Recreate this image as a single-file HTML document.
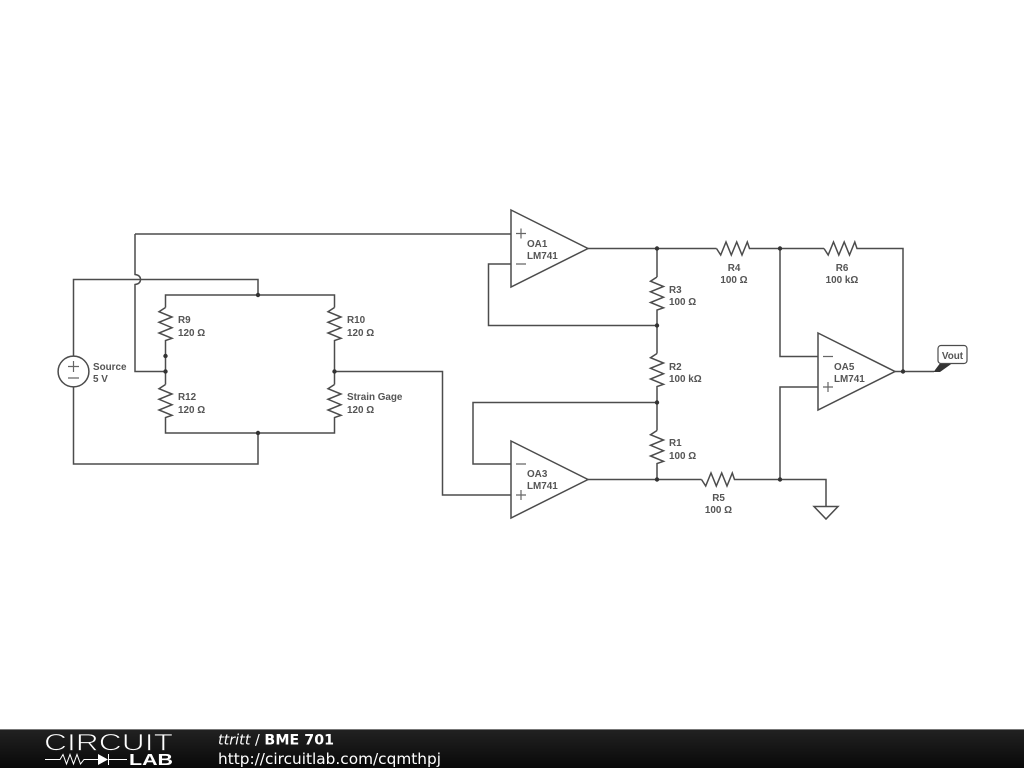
<!DOCTYPE html>
<html>
<head>
<meta charset="utf-8">
<style>
html,body{margin:0;padding:0;background:#fff;width:1024px;height:768px;overflow:hidden}
svg{display:block;position:absolute;left:0;top:0}
.w{fill:none;stroke:#4c4c4c;stroke-width:1.5}
.s{fill:none;stroke:#666;stroke-width:1.2}
.t{font-family:"Liberation Sans",sans-serif;font-size:9.9px;font-weight:bold;fill:#555}
.d{fill:#333}
.f{font-family:"DejaVu Sans",sans-serif;fill:#fff}
</style>
</head>
<body>
<svg width="1024" height="768" viewBox="0 0 1024 768" xmlns="http://www.w3.org/2000/svg">
<defs>
<linearGradient id="g" x1="0" y1="0" x2="0" y2="1"><stop offset="0" stop-color="#222"/><stop offset="1" stop-color="#080808"/></linearGradient>
<polyline id="rh" class="w" points="-17.5,0 -13.3,6.5 -8,-6.5 -2.7,6.5 2.7,-6.5 8,6.5 13.3,-6.5 15.5,0 17.5,0"/>
<polyline id="rv" class="w" points="0,-17.5 -6.5,-13.3 6.5,-8 -6.5,-2.7 6.5,2.7 -6.5,8 6.5,13.3 0,15.5 0,17.5"/>
</defs>
<rect width="1024" height="768" fill="#fff"/>

<!-- wires -->
<path class="w" d="M73.5 356V279.5H258V295M165.5 307.5V295H334.5V307.5M165.5 342.5V384.5M334.5 342.5V384.5M165.5 419.5V433H334.5V419.5M258 433V464H73.5V387"/>
<path class="w" d="M135 234H511M135 234V274.5C139 275 140.5 277 140.5 279.5C140.5 282 139 284 135 284.5V371.5H165.5"/>
<path class="w" d="M334.5 371.5H442.5V495H511"/>
<path class="w" d="M511 264H488.5V325.5H657"/>
<path class="w" d="M511 464H473V402.5H657"/>
<path class="w" d="M588 248.5H716.5M751.5 248.5H824M859 248.5H903V371.5"/>
<path class="w" d="M657 248.5V277M657 312V353.5M657 388.5V430.5M657 465.5V479.5"/>
<path class="w" d="M588 479.5H701.5M736.5 479.5H826V506"/>
<path class="w" d="M780 248.5V356.5H818M818 387H780V479.5"/>
<path class="w" d="M895 371.5H934"/>

<!-- resistors -->
<use href="#rv" x="165.5" y="325"/>
<use href="#rv" x="165.5" y="402"/>
<use href="#rv" x="334.5" y="325"/>
<use href="#rv" x="334.5" y="402"/>
<use href="#rv" x="657" y="294.5"/>
<use href="#rv" x="657" y="371"/>
<use href="#rv" x="657" y="448"/>
<use href="#rh" x="734" y="248.5"/>
<use href="#rh" x="841.5" y="248.5"/>
<use href="#rh" x="719" y="479.5"/>

<!-- source -->
<circle class="w" cx="73.5" cy="371.5" r="15.4" fill="#fff"/>
<path class="s" d="M68 366.5H79M73.5 361V372M68 378H79"/>

<!-- op amps -->
<path class="w" d="M511 210L588 248.5L511 287Z"/>
<path class="s" d="M516 233.5H526M521 228.5V238.5M516 264H526"/>
<path class="w" d="M511 441L588 479.5L511 518Z"/>
<path class="s" d="M516 464H526M516 495H526M521 490V500"/>
<path class="w" d="M818 333L895 371.5L818 410Z"/>
<path class="s" d="M823 356.5H833M823 387H833M828 382V392"/>

<!-- ground -->
<path class="w" d="M814 506.5H838L826 519Z"/>

<!-- Vout -->
<path d="M933.5 372L941 362H954L940 372Z" fill="#333"/>
<rect x="938" y="345.5" width="29" height="18" rx="3" fill="#fff" stroke="#4c4c4c" stroke-width="1.2"/>

<!-- nodes -->
<g class="d">
<circle cx="258" cy="295" r="2.2"/><circle cx="258" cy="433" r="2.2"/>
<circle cx="165.5" cy="356" r="2.2"/><circle cx="165.5" cy="371.5" r="2.2"/>
<circle cx="334.5" cy="371.5" r="2.2"/>
<circle cx="657" cy="248.5" r="2.2"/><circle cx="657" cy="325.5" r="2.2"/>
<circle cx="657" cy="402.5" r="2.2"/><circle cx="657" cy="479.5" r="2.2"/>
<circle cx="780" cy="248.5" r="2.2"/><circle cx="780" cy="479.5" r="2.2"/>
<circle cx="903" cy="371.5" r="2.2"/>
</g>

<!-- labels -->
<g class="t">
<text x="93" y="370">Source</text><text x="93" y="382">5 V</text>
<text x="178" y="323">R9</text><text x="178" y="336">120 Ω</text>
<text x="178" y="400">R12</text><text x="178" y="413">120 Ω</text>
<text x="347" y="323">R10</text><text x="347" y="336">120 Ω</text>
<text x="347" y="400">Strain Gage</text><text x="347" y="413">120 Ω</text>
<text x="527" y="247">OA1</text><text x="527" y="259">LM741</text>
<text x="527" y="477">OA3</text><text x="527" y="489">LM741</text>
<text x="834" y="370">OA5</text><text x="834" y="382">LM741</text>
<text x="669" y="293">R3</text><text x="669" y="305">100 Ω</text>
<text x="669" y="370">R2</text><text x="669" y="382">100 kΩ</text>
<text x="669" y="446">R1</text><text x="669" y="459">100 Ω</text>
<g text-anchor="middle">
<text x="734" y="271">R4</text><text x="734" y="283">100 Ω</text>
<text x="842" y="271">R6</text><text x="842" y="283">100 kΩ</text>
<text x="718.5" y="501">R5</text><text x="718.5" y="513">100 Ω</text>
<text x="952.5" y="359">Vout</text>
</g>
</g>

<!-- footer -->
<rect x="0" y="729" width="1024" height="39" fill="url(#g)"/>
<rect x="0" y="729" width="1024" height="1" fill="#777"/>
<text x="44" y="750.5" font-family="'Liberation Sans',sans-serif" font-size="24" textLength="129" lengthAdjust="spacingAndGlyphs" fill="#fff" stroke="#1c1c1c" stroke-width="0.8">CIRCUIT</text>
<text x="129" y="765" font-family="'Liberation Sans',sans-serif" font-size="15.5" font-weight="bold" textLength="44" lengthAdjust="spacingAndGlyphs" fill="#fff">LAB</text>
<path d="M45 759.5H60L63 754.5L66.5 764L70 754.5L73.5 764L77 754.5L80.5 764L84 759.5H98M108 759.5H127M108.5 754V765" fill="none" stroke="#fff" stroke-width="1"/>
<path d="M98 754L108 759.5L98 765Z" fill="#fff"/>
<text class="f" x="218" y="744.5" font-size="14.2" textLength="116"><tspan font-style="italic">ttritt</tspan> / <tspan font-weight="bold">BME 701</tspan></text>
<text class="f" x="218" y="764" font-size="15.5" textLength="223" lengthAdjust="spacingAndGlyphs">http://circuitlab.com/cqmthpj</text>
</svg>
</body>
</html>
